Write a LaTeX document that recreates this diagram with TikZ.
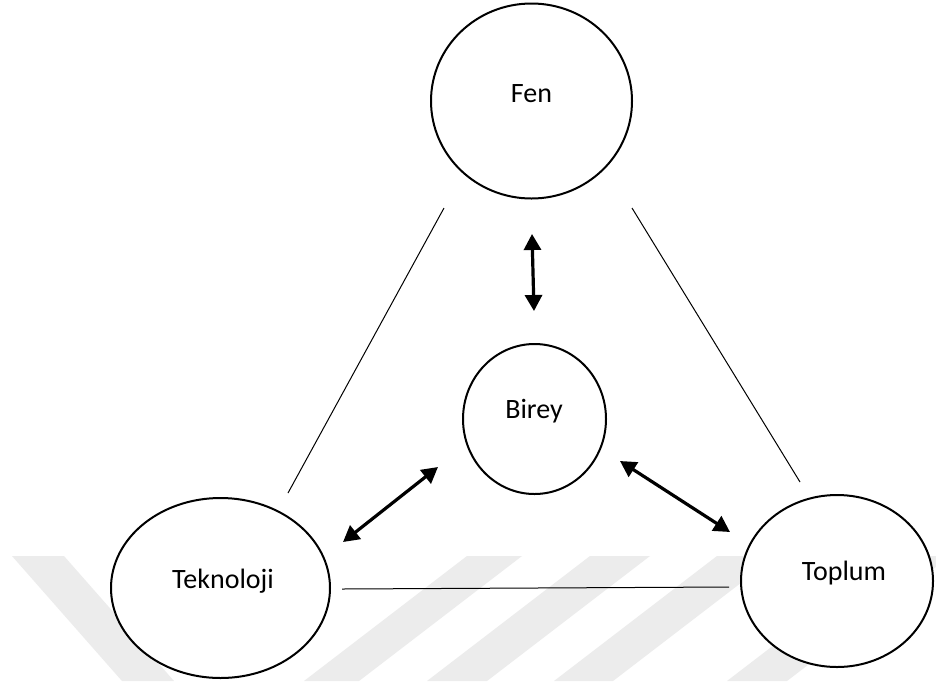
\documentclass[tikz,border=0pt]{standalone}
\usepackage{fontspec}
\setmainfont{Carlito}
\usetikzlibrary{shapes.geometric,arrows.meta}
\definecolor{wmgray}{RGB}{236,236,236}
\tikzset{
  circ/.style={ellipse, draw=black, line width=2pt, fill=white, inner sep=0pt},
  lbl/.style={anchor=base, inner sep=0pt, font=\fontsize{28}{30}\selectfont},
  thinline/.style={line width=1pt, black},
  dblarrow/.style={line width=3.2pt, {Triangle[length=16pt,width=17pt]}-{Triangle[length=16pt,width=17pt]}},
  wm/.style={fill=wmgray, draw=none}
}
\begin{document}
\begin{tikzpicture}[x=1pt,y=-1pt]
\useasboundingbox (0,0) rectangle (936,681);
\fill[white] (0,0) rectangle (936,681);
% watermark stripes
\fill[wm] (12,556) -- (64,556) -- (174,681) -- (122,681) -- cycle;
\fill[wm] (467,556) -- (522,556) -- (359,681) -- (304,681) -- cycle;
\fill[wm] (590,556) -- (650,556) -- (487,681) -- (427,681) -- cycle;
\fill[wm] (717,556) -- (776,556) -- (613,681) -- (554,681) -- cycle;
\fill[wm] (890,556) -- (950,556) -- (787,681) -- (727,681) -- cycle;
% circles
\node[circ, minimum width=201pt, minimum height=195pt] (fen) at (531.5,101) {};
\node[circ, minimum width=143pt, minimum height=150pt] (birey) at (534.5,419) {};
\node[circ, minimum width=219pt, minimum height=180pt] (tek) at (220.5,588) {};
\node[circ, minimum width=192pt, minimum height=172pt] (top) at (837,581) {};
% labels
\node[lbl] (fent) at (531.5,102) {Fen};
\node[lbl] (bireyt) at (534,418) {Birey};
\node[lbl] (tekt) at (223,588) {Teknoloji};
\node[lbl] (topt) at (844,580) {Toplum};
% connector end points
\coordinate (l1a) at (444,208);
\coordinate (l1b) at (288,493);
\coordinate (l2a) at (632,208);
\coordinate (l2b) at (800,482);
\coordinate (l3a) at (342,589);
\coordinate (l3b) at (729,587);
\coordinate (a1a) at (532,234);
\coordinate (a1b) at (534,311);
\coordinate (a2a) at (438,467);
\coordinate (a2b) at (343,542);
\coordinate (a3a) at (620,461);
\coordinate (a3b) at (730,532);
% thin lines
\draw[thinline] (l1a) -- (l1b);
\draw[thinline] (l2a) -- (l2b);
\draw[thinline] (l3a) -- (l3b);
% double arrows
\draw[dblarrow] (a1a) -- (a1b);
\draw[dblarrow] (a2a) -- (a2b);
\draw[dblarrow] (a3a) -- (a3b);
\end{tikzpicture}
\end{document}
